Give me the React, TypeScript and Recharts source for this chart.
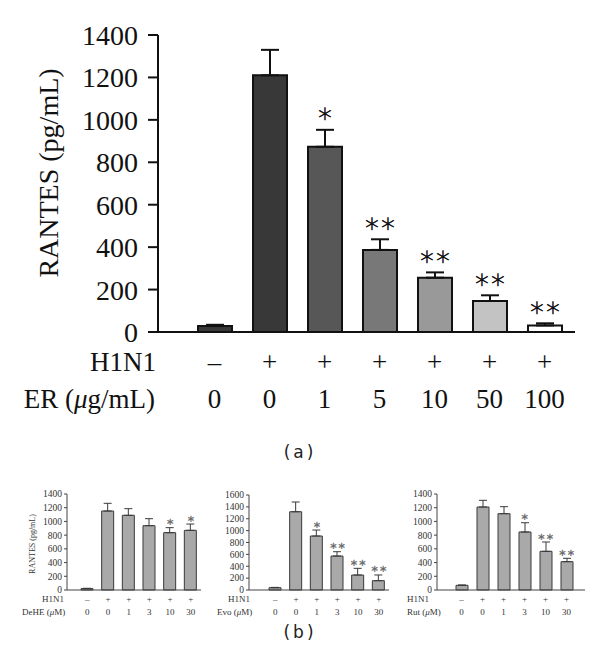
import React from "react";
import { ComposedChart, Bar, Line, XAxis, YAxis, ErrorBar, LabelList, Cell } from "recharts";

const SERIF = '"Liberation Serif", "DejaVu Serif", serif';
const SANS = '"DejaVu Sans", "Liberation Sans", sans-serif';

// panel (a): ER extract
const mainH1N1 = ["–", "+", "+", "+", "+", "+", "+"];
const mainDose = ["0", "0", "1", "5", "10", "50", "100"];
const mainMean = [28, 1210, 873, 387, 256, 146, 31];
const mainErr = [6, 120, 80, 50, 25, 27, 10];
const mainStars = ["", "", "∗", "∗∗", "∗∗", "∗∗", "∗∗"];
const mainFills = ["#383838", "#383838", "#575757", "#787878", "#999999", "#c3c3c3", "#ffffff"];
const mainTicks = [0, 200, 400, 600, 800, 1000, 1200, 1400];

// panel (b): pure compounds
const smallH1N1 = ["–", "+", "+", "+", "+", "+"];
const smallDose = ["0", "0", "1", "3", "10", "30"];
const deheMean = [20, 1152, 1089, 938, 836, 870];
const deheErr = [5, 112, 97, 102, 73, 92];
const deheStars = ["", "", "", "", "∗", "∗"];
const evoMean = [39, 1318, 909, 572, 252, 157];
const evoErr = [5, 164, 101, 73, 113, 96];
const evoStars = ["", "", "∗", "∗∗", "∗∗", "∗∗"];
const rutMean = [68, 1210, 1113, 846, 564, 413];
const rutErr = [5, 98, 102, 135, 136, 49];
const rutStars = ["", "", "", "∗", "∗∗", "∗∗"];
const ticks1400 = [0, 200, 400, 600, 800, 1000, 1200, 1400];
const ticks1600 = [0, 200, 400, 600, 800, 1000, 1200, 1400, 1600];

const build = (mean: number[], err: number[], stars: string[]) =>
  mean.map((m, i) => ({ name: String(i), mean: m, err: [0, err[i]], top: m + err[i], star: stars[i] }));

const mainData = build(mainMean, mainErr, mainStars);

function MainTick(props: any) {
  const { x, y, index } = props;
  return (
    <g>
      <text x={x} y={y + 30} textAnchor="middle" dominantBaseline="central" fontFamily={SERIF} fontSize={27} fill="#111">
        {mainH1N1[index]}
      </text>
      <text x={x} y={y + 67} textAnchor="middle" dominantBaseline="central" fontFamily={SERIF} fontSize={27} fill="#111">
        {mainDose[index]}
      </text>
    </g>
  );
}

function SmallTick(props: any) {
  const { x, y, index } = props;
  return (
    <g>
      <text x={x} y={y + 9} textAnchor="middle" dominantBaseline="central" fontFamily={SERIF} fontSize={9} fill="#333">
        {smallH1N1[index]}
      </text>
      <text x={x} y={y + 22} textAnchor="middle" dominantBaseline="central" fontFamily={SERIF} fontSize={9} fill="#333">
        {smallDose[index]}
      </text>
    </g>
  );
}

const starLabel = (dy: number, size: number, weight: number, color: string, spacing: number, sw: number) => (p: any) => {
  if (!p.value) return null;
  return (
    <text x={p.x} y={p.y - dy} textAnchor="middle" dominantBaseline="central" fontFamily={SANS} fontWeight={weight}
      fontSize={size} fill={color} stroke={color} strokeWidth={sw} letterSpacing={spacing}>
      {p.value}
    </text>
  );
};

function Panel({
  left, width, mean, err, stars, yMax, yTicks, top, padL, padR, yW, mL, mR,
}: {
  left: number; width: number; mean: number[]; err: number[]; stars: string[]; yMax: number; yTicks: number[];
  top: number; padL: number; padR: number; yW: number; mL: number; mR: number;
}) {
  const data = build(mean, err, stars);
  return (
    <div style={{ position: "absolute", left, top: 480 }}>
      <ComposedChart width={width} height={150} data={data} margin={{ top, right: mR, bottom: 5, left: mL }}>
        <XAxis
          dataKey="name"
          interval={0}
          height={35}
          padding={{ left: padL, right: padR }}
          axisLine={{ stroke: "#444", strokeWidth: 1 }}
          tickLine={false}
          tickSize={0}
          tickMargin={0}
          tick={<SmallTick />}
        />
        <YAxis
          width={yW}
          domain={[0, yMax]}
          ticks={yTicks}
          interval={0}
          axisLine={{ stroke: "#444", strokeWidth: 1 }}
          tickLine={{ stroke: "#444", strokeWidth: 1 }}
          tickSize={3}
          tickMargin={2}
          tick={{ fontFamily: SERIF, fontSize: 9.5, fill: "#333" }}
        />
        <Bar dataKey="mean" barSize={12} fill="#a9a9a9" stroke="#3a3a3a" strokeWidth={1} isAnimationActive={false}>
          <ErrorBar dataKey="err" direction="y" width={4} stroke="#3a3a3a" strokeWidth={1} />
        </Bar>
        <Line dataKey="top" stroke="none" dot={false} activeDot={false} isAnimationActive={false}>
          <LabelList dataKey="star" content={starLabel(6, 10, 400, "#666", 0, 0.2)} />
        </Line>
      </ComposedChart>
    </div>
  );
}

export default function App() {
  return (
    <div style={{ position: "absolute", left: 0, top: 0, width: 600, height: 669, background: "#fff" }}>
      <div style={{ position: "absolute", left: 0, top: 0 }}>
        <ComposedChart width={600} height={420} data={mainData} margin={{ top: 35, right: 25, bottom: 8, left: 58 }}>
          <XAxis
            dataKey="name"
            interval={0}
            height={80}
            padding={{ left: 29, right: 3 }}
            axisLine={{ stroke: "#111", strokeWidth: 2 }}
            tickLine={false}
            tickSize={0}
            tickMargin={0}
            tick={<MainTick />}
          />
          <YAxis
            width={100}
            domain={[0, 1400]}
            ticks={mainTicks}
            interval={0}
            axisLine={{ stroke: "#111", strokeWidth: 2 }}
            tickLine={{ stroke: "#111", strokeWidth: 2 }}
            tickSize={10}
            tickMargin={10}
            tick={{ fontFamily: SERIF, fontSize: 28, fill: "#111" }}
          />
          <Bar dataKey="mean" barSize={34} stroke="#111" strokeWidth={2} isAnimationActive={false}>
            {mainData.map((d, i) => (
              <Cell key={d.name} fill={mainFills[i]} />
            ))}
            <ErrorBar dataKey="err" direction="y" width={9} stroke="#111" strokeWidth={2} />
          </Bar>
          <Line dataKey="top" stroke="none" dot={false} activeDot={false} isAnimationActive={false}>
            <LabelList dataKey="star" content={starLabel(17, 27, 200, "#111", -1, 0.6)} />
          </Line>
        </ComposedChart>
      </div>

      <Panel left={0} width={205} mean={deheMean} err={deheErr} stars={deheStars} yMax={1400} yTicks={ticks1400}
        top={14} padL={10} padR={0} yW={60} mL={7} mR={4} />
      <Panel left={200} width={200} mean={evoMean} err={evoErr} stars={evoStars} yMax={1600} yTicks={ticks1600}
        top={15} padL={16} padR={0} yW={45} mL={4} mR={11} />
      <Panel left={400} width={200} mean={rutMean} err={rutErr} stars={rutStars} yMax={1400} yTicks={ticks1400}
        top={14} padL={14} padR={8} yW={35} mL={2} mR={15} />

      <svg width={600} height={669} style={{ position: "absolute", left: 0, top: 0, pointerEvents: "none" }}>
        <text transform="translate(48,173) rotate(-90)" textAnchor="middle" dominantBaseline="central" fontFamily={SERIF} fontSize={28} fill="#111">
          RANTES (pg/mL)
        </text>
        <text x={156} y={362} textAnchor="end" dominantBaseline="central" fontFamily={SERIF} fontSize={27} fill="#111">H1N1</text>
        <text x={155} y={399} textAnchor="end" dominantBaseline="central" fontFamily={SERIF} fontSize={27} fill="#111">
          ER (<tspan fontStyle="italic">μ</tspan>g/mL)
        </text>
        <text x={300} y={452} textAnchor="middle" dominantBaseline="central" fontFamily={SANS} fontSize={17} fill="#222" letterSpacing={3}>(a)</text>

        <text transform="translate(32,544) rotate(-90)" textAnchor="middle" dominantBaseline="central" fontFamily={SERIF} fontSize={8} fill="#333">
          RANTES (pg/mL)
        </text>
        <text x={42} y={599} dominantBaseline="central" fontFamily={SERIF} fontSize={9} fill="#333">H1N1</text>
        <text x={22} y={612} dominantBaseline="central" fontFamily={SERIF} fontSize={9} fill="#333">
          DeHE (<tspan fontStyle="italic">μ</tspan>M)
        </text>
        <text x={228} y={599} dominantBaseline="central" fontFamily={SERIF} fontSize={9} fill="#333">H1N1</text>
        <text x={217} y={612} dominantBaseline="central" fontFamily={SERIF} fontSize={9} fill="#333">
          Evo (<tspan fontStyle="italic">μ</tspan>M)
        </text>
        <text x={407} y={599} dominantBaseline="central" fontFamily={SERIF} fontSize={9} fill="#333">H1N1</text>
        <text x={407} y={612} dominantBaseline="central" fontFamily={SERIF} fontSize={9} fill="#333">
          Rut (<tspan fontStyle="italic">μ</tspan>M)
        </text>
        <text x={300} y={632} textAnchor="middle" dominantBaseline="central" fontFamily={SANS} fontSize={17} fill="#222" letterSpacing={3}>(b)</text>
      </svg>
    </div>
  );
}
